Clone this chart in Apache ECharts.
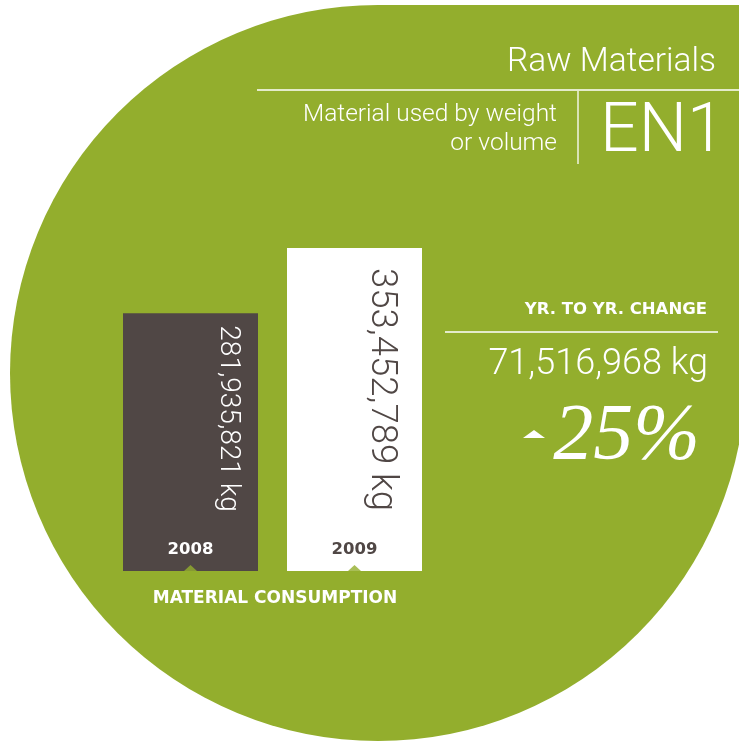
<!DOCTYPE html>
<html>
<head>
<meta charset="utf-8">
<script src="https://cdn.jsdelivr.net/npm/echarts@6/dist/echarts.min.js"></script>
<style>
html,body{margin:0;padding:0;background:#fff;}
#c{width:739px;height:742px;}
</style>
</head>
<body>
<div id="c"></div>
<script>
// ---- data ----
const categories = ['2008', '2009'];
const consumptionKg = [281935821, 353452789];
const valueLabels = ['281,935,821 kg', '353,452,789 kg'];
const changeKg = '71,516,968 kg';
const changePct = '25%';

// ---- style ----
const GREEN = '#93ae2d';
const DARK = '#504745';
const barColors = [DARK, '#ffffff'];
const labelColors = ['#ffffff', DARK];
const labelSizes = [28, 36.5];
const labelPos = [['78%', 12], ['70%', 20]];
const FONT = 'Roboto';

const chart = echarts.init(document.getElementById('c'), null, {renderer: 'canvas'});

const barData = consumptionKg.map((v, i) => ({
  value: v,
  itemStyle: {color: barColors[i]},
  label: {
    show: true,
    formatter: valueLabels[i],
    position: labelPos[i],
    rotate: -90,
    align: 'left',
    verticalAlign: 'middle',
    color: labelColors[i],
    fontSize: labelSizes[i],
    fontFamily: FONT,
    fontWeight: 300
  }
}));

function txt(x, y, text, size, weight, family, align, extra) {
  return {
    type: 'text', x: x, y: y, z: 100, silent: true,
    style: Object.assign({
      text: text, fill: '#ffffff', fontSize: size, fontWeight: weight,
      fontFamily: family, align: align, verticalAlign: 'top'
    }, extra || {})
  };
}

const option = {
  backgroundColor: '#ffffff',
  animation: false,
  grid: {left: 108.5, right: 302.5, top: 242, bottom: 171},
  xAxis: {
    type: 'category',
    data: categories,
    axisLine: {show: false},
    axisTick: {show: false},
    axisLabel: {
      margin: -21,
      verticalAlign: 'middle',
      formatter: (v, i) => '{s' + i + '|' + v + '}',
      rich: {
        s0: {color: '#ffffff', fontSize: 16.5, fontWeight: 'bold', fontFamily: 'DejaVu Sans'},
        s1: {color: DARK, fontSize: 16.5, fontWeight: 'bold', fontFamily: 'DejaVu Sans'}
      }
    },
    z: 10
  },
  yAxis: {
    type: 'value',
    min: 0,
    max: 360000000,
    show: false,
    splitLine: {show: false}
  },
  series: [
    {
      type: 'bar',
      data: barData,
      barWidth: 135,
      z: 2
    },
    {
      type: 'scatter',
      data: categories.map(c => [c, 0]),
      symbol: 'triangle',
      symbolSize: [13, 6],
      symbolOffset: [0, -3],
      itemStyle: {color: GREEN},
      z: 5,
      silent: true
    }
  ],
  graphic: [
    // background shape: circle with square top-right corner
    {type: 'circle', shape: {cx: 378, cy: 373, r: 368}, style: {fill: GREEN}, z: -10, silent: true},
    {type: 'rect', shape: {x: 378, y: 5, width: 361, height: 368}, style: {fill: GREEN}, z: -10, silent: true},
    // title block
    txt(716, 46, 'Raw Materials', 33.5, 300, FONT, 'right'),
    {type: 'line', z: 50, shape: {x1: 257, y1: 90, x2: 739, y2: 90}, style: {stroke: '#fff', lineWidth: 1.3}},
    {type: 'line', z: 50, shape: {x1: 578, y1: 91, x2: 578, y2: 164}, style: {stroke: '#fff', lineWidth: 1.3}},
    txt(557, 100, 'Material used by weight\nor volume', 24.5, 300, FONT, 'right', {lineHeight: 29}),
    txt(600, 100, 'EN1', 68, 300, FONT, 'left'),
    // change block
    txt(707, 301, 'YR. TO YR. CHANGE', 16.5, 'bold', 'DejaVu Sans', 'right'),
    {type: 'line', z: 50, shape: {x1: 445, y1: 332, x2: 718, y2: 332}, style: {stroke: '#fff', lineWidth: 1.3}},
    txt(708, 347, changeKg, 36, 300, FONT, 'right'),
    txt(700, 398, changePct, 80, 'normal', 'Liberation Serif', 'right', {fontStyle: 'italic'}),
    {type: 'polygon', z: 50, shape: {points: [[523, 438], [534, 430], [545, 438]]}, style: {fill: '#fff'}},
    // axis caption
    txt(275, 590, 'MATERIAL CONSUMPTION', 17, 'bold', 'DejaVu Sans', 'center')
  ]
};
chart.setOption(option);
</script>
</body>
</html>
